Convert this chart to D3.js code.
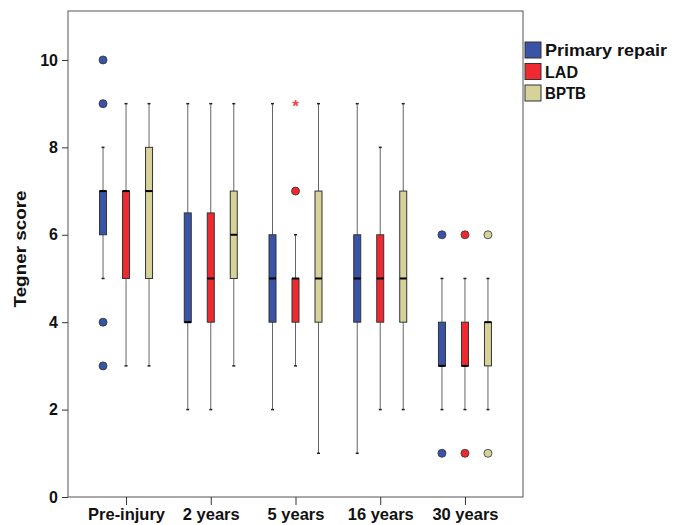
<!DOCTYPE html>
<html>
<head>
<meta charset="utf-8">
<script src="https://cdn.jsdelivr.net/npm/d3@7"></script>
<style>
  body { margin: 0; background: #fff; }
  text { font-family: "Liberation Sans", Arial, sans-serif; font-weight: bold; }
</style>
</head>
<body>
<script>
const categories = ["Pre-injury", "2 years", "5 years", "16 years", "30 years"];
const groups = ["Primary repair", "LAD", "BPTB"];
const colors = ["#3953a6", "#ee2a30", "#d6d29a"];

// [whiskerLow, q1, median, q3, whiskerHigh] per category, per group
const primaryStats = [[5, 6, 7, 7, 8], [2, 4, 4, 6.5, 9], [2, 4, 5, 6, 9], [1, 4, 5, 6, 9], [2, 3, 3, 4, 5]];
const ladStats = [[3, 5, 7, 7, 9], [2, 4, 5, 6.5, 9], [3, 4, 5, 5, 6], [2, 4, 5, 6, 8], [2, 3, 3, 4, 5]];
const bptbStats = [[3, 5, 7, 8, 9], [3, 5, 6, 7, 9], [1, 4, 5, 7, 9], [2, 4, 5, 7, 9], [2, 3, 4, 4, 5]];

// outliers (circles) and extremes (stars)
const primaryOutliers = [[10, 9, 4, 3], [], [], [], [6, 1]];
const ladOutliers = [[], [], [7], [], [6, 1]];
const bptbOutliers = [[], [], [], [], [6, 1]];
const ladExtremes = [[], [], [9], [], []];

const yTicks = [0, 2, 4, 6, 8, 10];

const stats = [primaryStats, ladStats, bptbStats];
const outliers = [primaryOutliers, ladOutliers, bptbOutliers];
const extremes = [[[], [], [], [], []], ladExtremes, [[], [], [], [], []]];

const width = 679, height = 525;
const margin = { top: 11, right: 156, bottom: 28, left: 68 };

const svg = d3.select("body").append("svg")
  .attr("width", width)
  .attr("height", height);

const x = d3.scalePoint()
  .domain(categories)
  .range([margin.left, width - margin.right])
  .padding(0.685);

const sub = d3.scalePoint()
  .domain(groups)
  .range([-23, 23]);

const y = d3.scaleLinear()
  .domain([0, 11.12])
  .range([height - margin.bottom, margin.top]);

// frame
svg.append("rect")
  .attr("x", margin.left).attr("y", margin.top)
  .attr("width", width - margin.right - margin.left)
  .attr("height", height - margin.bottom - margin.top)
  .attr("fill", "none").attr("stroke", "#555").attr("stroke-width", 1);

// axes
const yAxis = svg.append("g")
  .attr("transform", `translate(${margin.left},0)`)
  .call(d3.axisLeft(y).tickValues(yTicks).tickSize(6).tickSizeOuter(0));
yAxis.select(".domain").remove();
yAxis.selectAll(".tick line").attr("stroke", "#333");
yAxis.selectAll(".tick text").attr("font-size", 16).attr("fill", "#111").attr("dx", "-1");

const xAxis = svg.append("g")
  .attr("transform", `translate(0,${height - margin.bottom})`)
  .call(d3.axisBottom(x).tickSize(8).tickSizeOuter(0));
xAxis.select(".domain").remove();
xAxis.selectAll(".tick line").attr("stroke", "#333");
xAxis.selectAll(".tick text")
  .attr("font-size", 16.5).attr("fill", "#111")
  .attr("y", 23).attr("dy", 0);

svg.append("text")
  .attr("transform", `translate(26,249) rotate(-90)`)
  .attr("text-anchor", "middle")
  .attr("font-size", 16)
  .attr("fill", "#111")
  .attr("textLength", 117)
  .attr("lengthAdjust", "spacingAndGlyphs")
  .text("Tegner score");

// boxes
const boxW = 7;
groups.forEach((g, gi) => {
  categories.forEach((c, ci) => {
    const [lo, q1, med, q3, hi] = stats[gi][ci];
    const cx = x(c) + sub(g);
    const bg = svg.append("g");
    bg.append("line")
      .attr("x1", cx).attr("x2", cx)
      .attr("y1", y(lo)).attr("y2", y(hi))
      .attr("stroke", "#666").attr("stroke-width", 1);
    [lo, hi].forEach(v => bg.append("line")
      .attr("x1", cx - 1.5).attr("x2", cx + 1.5)
      .attr("y1", y(v)).attr("y2", y(v))
      .attr("stroke", "#222").attr("stroke-width", 1.5));
    bg.append("rect")
      .attr("x", cx - boxW / 2).attr("width", boxW)
      .attr("y", y(q3)).attr("height", y(q1) - y(q3))
      .attr("fill", colors[gi]).attr("stroke", "#333").attr("stroke-width", 1);
    bg.append("line")
      .attr("x1", cx - boxW / 2).attr("x2", cx + boxW / 2)
      .attr("y1", y(med)).attr("y2", y(med))
      .attr("stroke", "#000").attr("stroke-width", 2);
    outliers[gi][ci].forEach(v => bg.append("circle")
      .attr("cx", cx).attr("cy", y(v)).attr("r", 4)
      .attr("fill", colors[gi]).attr("stroke", "#333").attr("stroke-width", 0.8));
    extremes[gi][ci].forEach(v => bg.append("text")
      .attr("x", cx).attr("y", y(v) + 8)
      .attr("text-anchor", "middle")
      .attr("font-size", 17).attr("font-weight", "normal")
      .attr("fill", "#f04848")
      .text("*"));
  });
});

// legend
const legendWidths = [122, 33, 41];
const legend = svg.append("g").attr("transform", "translate(525,42)");
groups.forEach((g, i) => {
  legend.append("rect")
    .attr("x", 0).attr("y", i * 21.5)
    .attr("width", 16).attr("height", 16)
    .attr("fill", colors[i]).attr("stroke", "#333").attr("stroke-width", 1);
  legend.append("text")
    .attr("x", 20).attr("y", i * 21.5 + 14)
    .attr("font-size", 17)
    .attr("fill", "#111")
    .attr("textLength", legendWidths[i])
    .attr("lengthAdjust", "spacingAndGlyphs")
    .text(g);
});
</script>
</body>
</html>
